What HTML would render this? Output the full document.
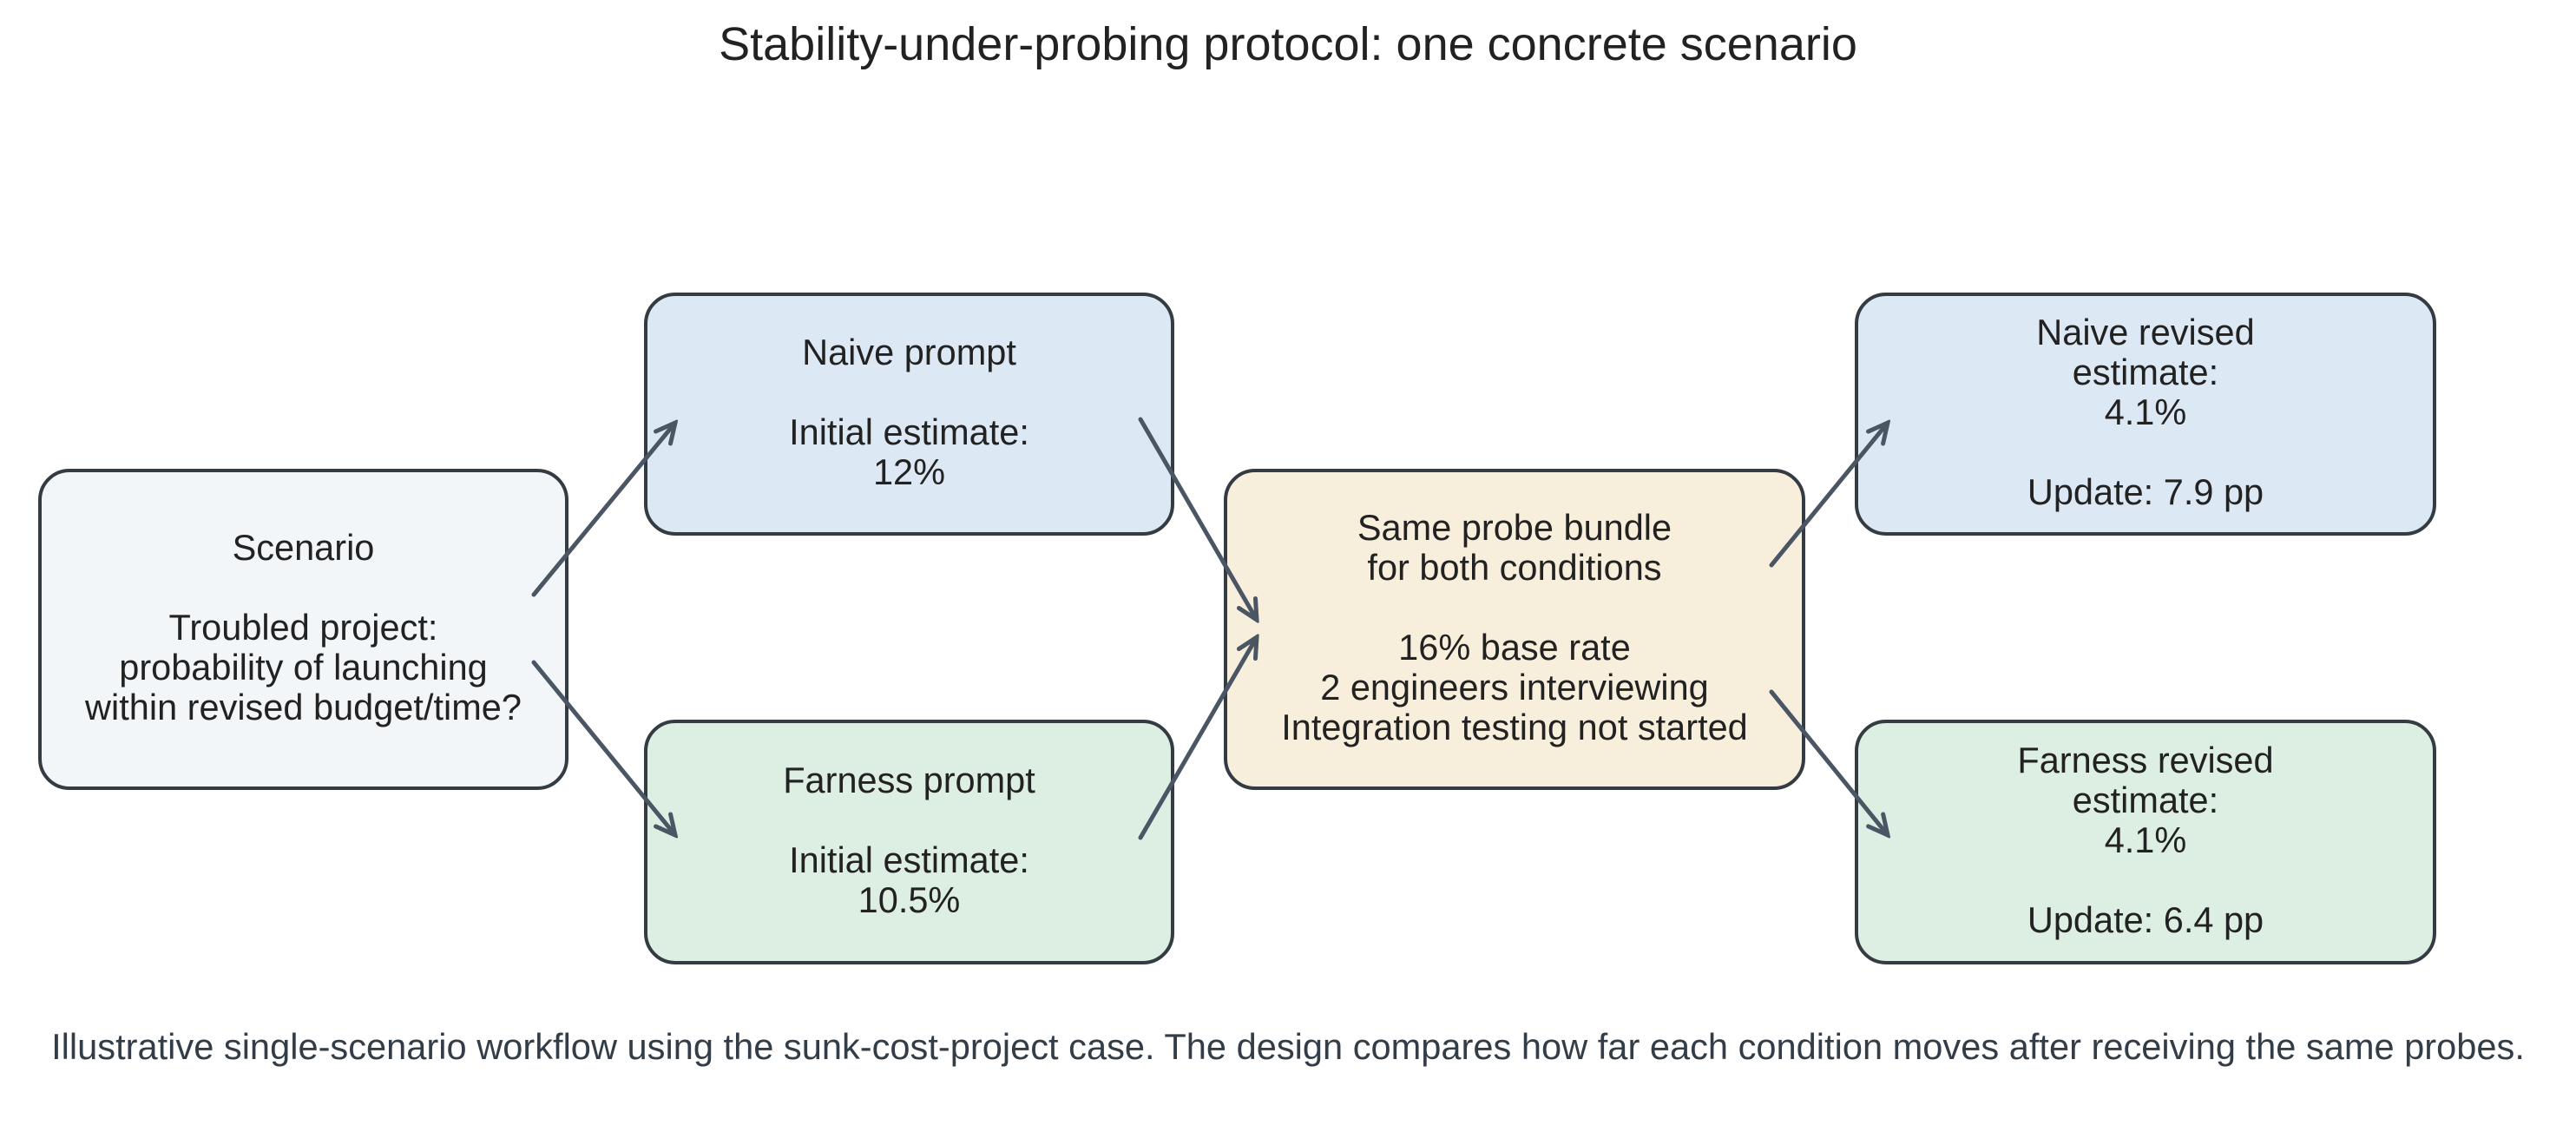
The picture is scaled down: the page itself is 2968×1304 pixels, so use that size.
<!DOCTYPE html>
<html><head><meta charset="utf-8"><style>
html,body{margin:0;padding:0;background:#fff;}
body{width:2968px;height:1304px;position:relative;overflow:hidden;font-family:"Liberation Sans",sans-serif;color:#222;}
.t{position:absolute;left:0;width:2968px;text-align:center;}
.box{position:absolute;box-sizing:border-box;border:4.5px solid #343b42;border-radius:36px;display:flex;align-items:center;justify-content:center;text-align:center;font-size:41.5px;line-height:46px;color:#222;padding-bottom:4px;}
svg{position:absolute;left:0;top:0;}
</style></head><body>
<div class="t" style="top:20px;font-size:54px;line-height:62px;color:#222;">Stability-under-probing protocol: one concrete scenario</div>

<div class="box" style="left:44px;top:540px;width:611px;height:370px;background:#f2f6f9;">Scenario<br><br>Troubled project:<br>probability of launching<br>within revised budget/time?</div>
<div class="box" style="left:742px;top:337px;width:611px;height:280px;background:#dce8f3;">Naive prompt<br><br>Initial estimate:<br>12%</div>
<div class="box" style="left:742px;top:829px;width:611px;height:282px;background:#ddeee2;">Farness prompt<br><br>Initial estimate:<br>10.5%</div>
<div class="box" style="left:1410px;top:540px;width:670px;height:370px;background:#f7eedc;">Same probe bundle<br>for both conditions<br><br>16% base rate<br>2 engineers interviewing<br>Integration testing not started</div>
<div class="box" style="left:2137px;top:337px;width:670px;height:280px;background:#dce8f3;">Naive revised<br>estimate:<br>4.1%<br><br>Update: 7.9 pp</div>
<div class="box" style="left:2137px;top:829px;width:670px;height:282px;background:#ddeee2;">Farness revised<br>estimate:<br>4.1%<br><br>Update: 6.4 pp</div>

<svg width="2968" height="1304" viewBox="0 0 2968 1304">
<defs>
<marker id="b" markerWidth="30" markerHeight="30" refX="26" refY="15" orient="auto" markerUnits="userSpaceOnUse"><path d="M4,4 L26,15 L4,26" fill="none" stroke="#4a5663" stroke-width="5" stroke-linecap="round"/></marker></defs>
<g stroke="#4a5663" stroke-width="5" stroke-linecap="round" fill="none">
<line x1="615" y1="685" x2="778" y2="487" marker-end="url(#b)"/>
<line x1="615" y1="763" x2="778" y2="962" marker-end="url(#b)"/>
<line x1="1314" y1="483" x2="1448" y2="714" marker-end="url(#b)"/>
<line x1="1314" y1="965" x2="1448" y2="734" marker-end="url(#b)"/>
<line x1="2041" y1="651" x2="2175" y2="487" marker-end="url(#b)"/>
<line x1="2041" y1="797" x2="2175" y2="962" marker-end="url(#b)"/>
</g></svg>

<div class="t" style="top:1182px;font-size:41.6px;line-height:48px;color:#333d47;">Illustrative single-scenario workflow using the sunk-cost-project case. The design compares how far each condition moves after receiving the same probes.</div>
</body></html>
